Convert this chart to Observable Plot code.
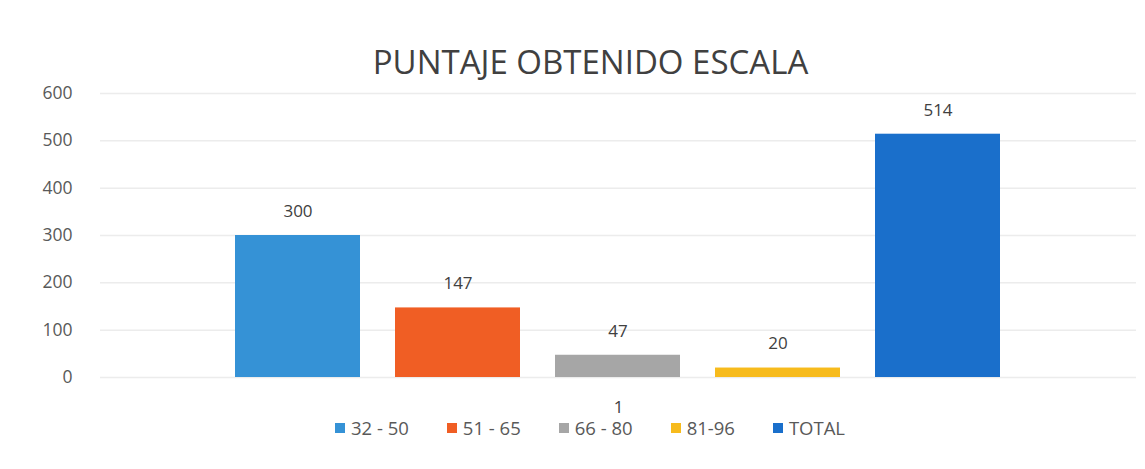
<!DOCTYPE html>
<html>
<head>
<meta charset="utf-8">
<script src="https://cdn.jsdelivr.net/npm/d3@7"></script>
<script src="https://cdn.jsdelivr.net/npm/@observablehq/plot@0.6"></script>
<style>
  body { margin: 0; background: #fff; font-family: "Open Sans", sans-serif; }
  #title { height: 80px; box-sizing: border-box; padding-top: 43px; line-height: 38px; text-align: center; font-size: 33px; color: #404040; padding-left: 36px; }
  #legend { display: flex; justify-content: center; align-items: center; line-height: 16px; font-size: 18.5px; color: #595959; padding-left: 35px; }
  #legend .item { display: flex; align-items: center; margin: 0 19px; }
  #legend .sw { width: 10px; height: 10px; margin-right: 6px; }
</style>
</head>
<body>
<div id="title">PUNTAJE OBTENIDO ESCALA</div>
<div id="chart"></div>
<div id="legend"></div>
<script>
const series = ["32 - 50", "51 - 65", "66 - 80", "81-96", "TOTAL"];
const values = [300, 147, 47, 20, 514];
const colors = ["#3592d6", "#f05e24", "#a6a6a6", "#f7bb1d", "#1a6fcb"];
const categories = ["1"];
const yTicks = [0, 100, 200, 300, 400, 500, 600];

const data = series.map((s, i) => ({series: s, value: values[i]}));

const chart = Plot.plot({
  width: 1145,
  height: 340,
  marginLeft: 100,
  marginRight: 9,
  marginTop: 13,
  marginBottom: 43,
  style: {fontFamily: "Open Sans, sans-serif", fontSize: "17px", color: "#595959", background: "#fff"},
  x: {domain: series, range: [217, 1017], paddingInner: 0.22, paddingOuter: 0.11, axis: null},
  y: {domain: [0, 600], axis: null},
  color: {domain: series, range: colors},
  marks: [
    Plot.gridY(yTicks, {stroke: "#ececec", strokeOpacity: 1, strokeWidth: 1.5}),
    Plot.axisY(yTicks, {tickSize: 0, tickPadding: 28, fontSize: 17.5, fill: "#595959", label: null}),
    Plot.barY(data, {x: "series", y: "value", fill: "series"}),
    Plot.text(data, {x: "series", y: "value", text: d => String(d.value), dy: -24, fontSize: 17, fill: "#404040"}),
    Plot.text(categories, {text: d => d, frameAnchor: "bottom", dy: 35, fontSize: 17, fill: "#404040"})
  ]
});
document.getElementById("chart").appendChild(chart);

const legend = document.getElementById("legend");
series.forEach((s, i) => {
  const item = document.createElement("div");
  item.className = "item";
  const sw = document.createElement("span");
  sw.className = "sw";
  sw.style.background = colors[i];
  const t = document.createElement("span");
  t.textContent = s;
  item.appendChild(sw);
  item.appendChild(t);
  legend.appendChild(item);
});
</script>
</body>
</html>
